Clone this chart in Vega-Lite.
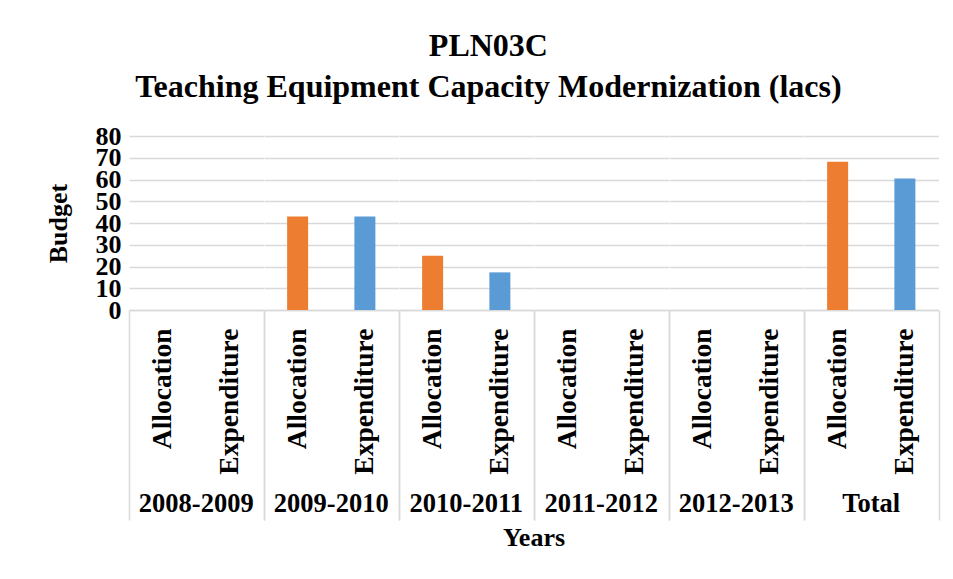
{
  "$schema": "https://vega.github.io/schema/vega-lite/v6.json",
  "padding": {"left": 45, "top": 30, "right": 10, "bottom": 5},
  "background": "white",
  "title": {
    "text": ["PLN03C", "Teaching Equipment Capacity Modernization (lacs)"],
    "font": "Liberation Serif",
    "fontSize": 32,
    "fontWeight": "bold",
    "color": "black",
    "lineHeight": 41,
    "anchor": "middle",
    "dx": -4,
    "offset": 19
  },
  "data": {
    "values": [
      {"year": "2008-2009", "type": "Allocation", "value": 0},
      {"year": "2008-2009", "type": "Expenditure", "value": 0},
      {"year": "2009-2010", "type": "Allocation", "value": 43},
      {"year": "2009-2010", "type": "Expenditure", "value": 43},
      {"year": "2010-2011", "type": "Allocation", "value": 25},
      {"year": "2010-2011", "type": "Expenditure", "value": 17.3},
      {"year": "2011-2012", "type": "Allocation", "value": 0},
      {"year": "2011-2012", "type": "Expenditure", "value": 0},
      {"year": "2012-2013", "type": "Allocation", "value": 0},
      {"year": "2012-2013", "type": "Expenditure", "value": 0},
      {"year": "Total", "type": "Allocation", "value": 68.2},
      {"year": "Total", "type": "Expenditure", "value": 60.5}
    ]
  },
  "facet": {
    "column": {
      "field": "year",
      "type": "ordinal",
      "sort": ["2008-2009", "2009-2010", "2010-2011", "2011-2012", "2012-2013", "Total"],
      "title": "Years",
      "header": {
        "labelOrient": "bottom",
        "titleOrient": "bottom",
        "labelFont": "Liberation Serif",
        "labelFontSize": 26.5,
        "labelFontWeight": "bold",
        "labelColor": "black",
        "labelPadding": -30,
        "titleFont": "Liberation Serif",
        "titleFontSize": 26,
        "titleFontWeight": "bold",
        "titleColor": "black",
        "titlePadding": -6
      }
    }
  },
  "spacing": 0,
  "spec": {
    "width": 134.5,
    "height": 174,
    "mark": {"type": "bar", "size": 21},
    "encoding": {
      "x": {
        "field": "type",
        "type": "nominal",
        "sort": ["Allocation", "Expenditure"],
        "scale": {"paddingInner": 0, "paddingOuter": 0},
        "axis": {
          "title": null,
          "labelAngle": 270,
          "labelFont": "Liberation Serif",
          "labelFontSize": 27.5,
          "labelFontWeight": "bold",
          "labelColor": "black",
          "labelPadding": -192,
          "tickBand": "extent",
          "tickSize": 210,
          "tickWidth": 1.5,
          "tickColor": {"condition": {"test": "datum.value === 'Allocation'", "value": "rgba(0,0,0,0)"}, "value": "#d9d9d9"},
          "domainColor": "#d9d9d9",
          "domainWidth": 1.5
        }
      },
      "y": {
        "field": "value",
        "type": "quantitative",
        "scale": {"domain": [0, 80], "nice": false},
        "axis": {
          "title": "Budget",
          "values": [0, 10, 20, 30, 40, 50, 60, 70, 80],
          "grid": true,
          "gridColor": "#d9d9d9",
          "gridWidth": 1.5,
          "domain": false,
          "ticks": false,
          "labelOverlap": false,
          "labelFont": "Liberation Serif",
          "labelFontSize": 26,
          "labelFontWeight": "bold",
          "labelColor": "black",
          "labelPadding": 8,
          "titleFont": "Liberation Serif",
          "titleFontSize": 26,
          "titleFontWeight": "bold",
          "titleColor": "black",
          "titlePadding": 24
        }
      },
      "color": {
        "field": "type",
        "type": "nominal",
        "scale": {"domain": ["Allocation", "Expenditure"], "range": ["#ED7D31", "#5B9BD5"]},
        "legend": null
      }
    }
  },
  "config": {"view": {"stroke": null}, "font": "Liberation Serif"}
}
